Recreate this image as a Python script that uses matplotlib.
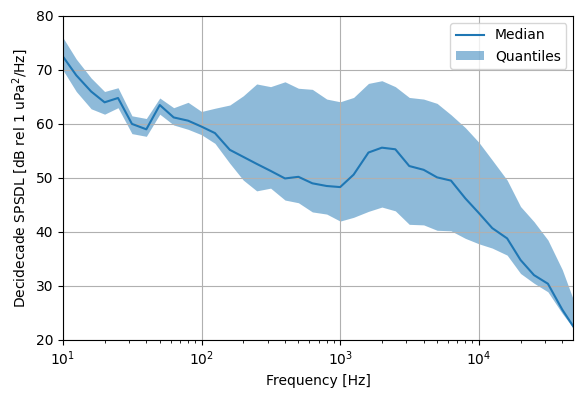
import matplotlib

matplotlib.use("Agg")
import matplotlib.pyplot as plt
import numpy as np

# decidecade band centre frequencies [Hz]
freqs = [
    10, 12.5, 16, 20, 25, 31.5, 40, 50, 63, 80,
    100, 125, 160, 200, 250, 315, 400, 500, 630, 800,
    1000, 1250, 1600, 2000, 2500, 3150, 4000, 5000, 6300, 8000,
    10000, 12500, 16000, 20000, 25000, 31500, 40000, 48000,
]
median = [
    72.5, 69.0, 66.0, 64.0, 64.8, 60.0, 59.0, 63.5, 61.2, 60.6,
    59.5, 58.3, 55.2, 53.9, 52.6, 51.3, 49.9, 50.2, 49.0, 48.5,
    48.3, 50.6, 54.7, 55.6, 55.3, 52.2, 51.5, 50.1, 49.5, 46.2,
    43.5, 40.7, 38.8, 34.8, 32.0, 30.4, 25.6, 22.5,
]
q_low = [
    70.0, 66.0, 62.8, 61.8, 63.0, 58.2, 57.7, 61.8, 59.8, 59.0,
    58.0, 56.4, 52.7, 49.6, 47.6, 48.1, 45.9, 45.4, 43.7, 43.3,
    42.0, 42.7, 43.8, 44.6, 43.9, 41.4, 41.3, 40.3, 40.2, 38.8,
    37.8, 37.0, 35.7, 32.3, 30.5, 28.9, 24.9, 22.2,
]
q_high = [
    76.0, 72.0, 68.5, 66.0, 66.7, 61.5, 61.0, 64.8, 63.0, 64.0,
    62.3, 62.9, 63.5, 65.2, 67.4, 66.9, 67.8, 66.6, 66.4, 64.6,
    64.1, 64.9, 67.5, 68.0, 66.9, 64.9, 64.6, 63.8, 61.7, 59.3,
    56.6, 53.3, 49.6, 44.7, 41.9, 38.5, 33.0, 27.5,
]

fig, ax = plt.subplots(figsize=(5.82, 3.98), dpi=100)
fig.subplots_adjust(left=0.108, right=0.985, top=0.96, bottom=0.146)

ax.plot(freqs, median, color="C0", label="Median")
ax.fill_between(freqs, q_low, q_high, color="C0", alpha=0.5, linewidth=0, label="Quantiles")

ax.set_xscale("log")
ax.set_xlim(freqs[0], freqs[-1])
ax.set_ylim(20, 80)
ax.grid(True)
ax.set_xlabel("Frequency [Hz]")
ax.set_ylabel("Decidecade SPSDL [dB rel 1 uPa$^2$/Hz]")
ax.legend(loc="upper right")

fig.savefig("out.png", dpi=100)
plt.close(fig)
